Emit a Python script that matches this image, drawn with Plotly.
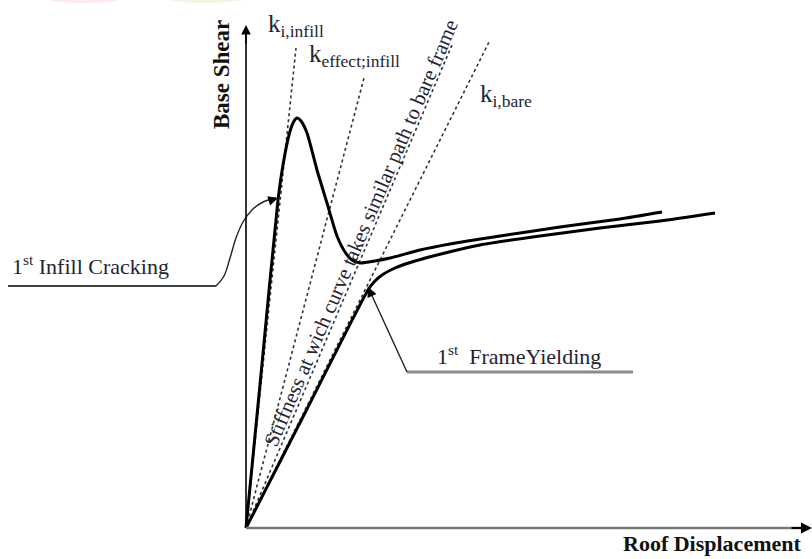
import plotly.graph_objects as go

# ---- schematic data (displacement units, shear units) ----
infill_x = [0, 16, 32, 37, 43, 47, 51, 55, 61, 71, 81, 91, 99, 106, 114, 129, 144, 174, 204, 254, 314, 374, 416]
infill_y = [0, 164, 328, 363, 393, 405, 410, 407, 395, 358, 325, 292, 276, 268, 265, 267, 270, 278, 284, 292, 301, 309, 316]

bare_x = [0, 61, 122, 128, 136, 149, 169, 199, 234, 294, 354, 414, 469]
bare_y = [0, 119, 238, 246, 253, 260, 267, 275, 283, 292, 300, 307, 315]

# stiffness reference lines (end points, all start at origin)
k_names = ["ki_infill", "keff_infill", "k_similar", "ki_bare"]
k_end_x = [50, 118, 206, 244]
k_end_y = [480, 450, 483, 488]

# leader for 1st infill cracking
crack_x = [-238, -30, -22, -16, -10, -3, 6, 17, 30]
crack_y = [242, 242, 252, 270, 290, 306, 318, 326, 330]
# leader for 1st frame yielding
yield_x = [387, 161, 122]
yield_y = [156, 156, 241]

x_axis_end = 564
y_axis_end = 503

TXT = "#1e2433"
SERIF = "Liberation Serif"

fig = go.Figure()

# dashed stiffness lines
for name, ex, ey in zip(k_names, k_end_x, k_end_y):
    fig.add_trace(go.Scatter(x=[0, ex], y=[0, ey], mode="lines", name=name,
                             line=dict(color="#333333", width=1.6, dash="3px,3px"),
                             hoverinfo="skip"))

# curves
fig.add_trace(go.Scatter(x=bare_x, y=bare_y, mode="lines", line=dict(color="black", width=3, shape="spline", smoothing=0.6), hoverinfo="skip"))
fig.add_trace(go.Scatter(x=infill_x, y=infill_y, mode="lines", line=dict(color="black", width=3, shape="spline", smoothing=0.6), hoverinfo="skip"))

# leaders
fig.add_trace(go.Scatter(x=crack_x[:2], y=crack_y[:2], mode="lines", line=dict(color="black", width=1.6), hoverinfo="skip"))
fig.add_trace(go.Scatter(x=crack_x[1:], y=crack_y[1:], mode="lines", line=dict(color="#222222", width=1.4, shape="spline"), hoverinfo="skip"))
fig.add_trace(go.Scatter(x=yield_x[:2], y=yield_y[:2], mode="lines", line=dict(color="#8a8a8a", width=3), hoverinfo="skip"))
fig.add_trace(go.Scatter(x=yield_x[1:], y=yield_y[1:], mode="lines", line=dict(color="#222222", width=1.4), hoverinfo="skip"))

# axes lines
fig.add_trace(go.Scatter(x=[0, 0], y=[0, y_axis_end - 8], mode="lines", line=dict(color="black", width=1.6), hoverinfo="skip"))
fig.add_trace(go.Scatter(x=[0, x_axis_end - 6], y=[0, 0], mode="lines", line=dict(color="#7a7a7a", width=2.6), hoverinfo="skip"))

ann = []
# arrowheads
def arrow(x, y, ax, ay, w=1.5, size=1.3):
    ann.append(dict(x=x, y=y, ax=ax, ay=ay, xref="x", yref="y", axref="x", ayref="y",
                    showarrow=True, arrowhead=2, arrowsize=size, arrowwidth=w, arrowcolor="black", text=""))

arrow(0, y_axis_end, 0, y_axis_end - 20, w=1.6, size=1.2)
arrow(x_axis_end + 2, 0, x_axis_end - 20, 0, w=2, size=1.1)
arrow(32, 330, 22, 327, w=1.5, size=1.3)
arrow(122, 241, 126, 232, w=1.5, size=1.3)

def label(x, y, text, size=22, bold=False, anchor="left", angle=0, color=TXT):
    ann.append(dict(x=x, y=y, xref="x", yref="y", text=("<b>%s</b>" % text) if bold else text,
                    showarrow=False, xanchor=anchor, yanchor="middle", textangle=angle,
                    font=dict(family=SERIF, size=size, color=color)))

label(-236, 263, "1<sup>st</sup> Infill Cracking", 22)
label(189, 173, "1<sup>st</sup>  FrameYielding", 22)
label(20, 503, "k<sub>i,infill</sub>", 25)
label(61, 473, "k<sub>effect;infill</sub>", 25)
label(232, 433, "k<sub>i,bare</sub>", 25)
label(-25, 453, "Base Shear", 23, bold=True, anchor="center", angle=-90, color="#111111")
label(466, -15, "Roof Displacement", 22, bold=True, anchor="center", color="#111111")
label(115, 295, "Stiffness at wich curve takes similar path to bare frame", 21, anchor="center", angle=-66.8)

shapes = [
    dict(type="circle", xref="x", yref="y", x0=-206, x1=-119, y0=525, y1=540, fillcolor="#fde9ea", line=dict(width=0), layer="below"),
    dict(type="circle", xref="x", yref="y", x0=-86, x1=4, y0=525, y1=540, fillcolor="#eef7e6", line=dict(width=0), layer="below"),
]

fig.update_layout(
    width=812, height=559, margin=dict(l=0, r=0, t=0, b=0),
    paper_bgcolor="white", plot_bgcolor="white", showlegend=False,
    xaxis=dict(range=[-246, 566], visible=False, fixedrange=True),
    yaxis=dict(range=[-31, 528], visible=False, fixedrange=True),
    annotations=ann, shapes=shapes,
)

fig.write_html("out.html", config={"displayModeBar": False},
               post_script="document.body.style.margin='0';document.body.style.overflow='hidden';")
